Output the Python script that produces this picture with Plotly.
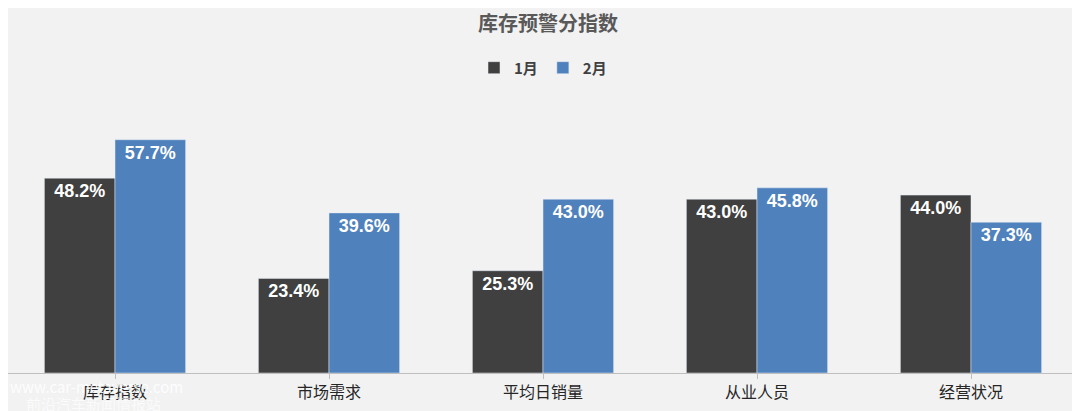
import plotly.graph_objects as go

categories = ["库存指数", "市场需求", "平均日销量", "从业人员", "经营状况"]
jan = [48.2, 23.4, 25.3, 43.0, 44.0]
feb = [57.7, 39.6, 43.0, 45.8, 37.3]

fig = go.Figure()
for name, vals, color in [("<b>1月</b>", jan, "#404040"), ("<b>2月</b>", feb, "#4f81bd")]:
    fig.add_trace(go.Bar(
        x=categories, y=vals, name=name, marker_color=color,
        text=[f"<b>{v:.1f}%</b>" for v in vals], textposition="inside",
        insidetextanchor="end", textangle=0,
        textfont=dict(color="white", size=18, family="Liberation Sans"),
    ))

fig.update_layout(
    width=1080, height=411,
    margin=dict(l=0, r=10, t=82, b=46),
    paper_bgcolor="#f2f2f2", plot_bgcolor="#f2f2f2",
    barmode="group", bargap=0.34, bargroupgap=0,
    title=dict(text="<b>库存预警分指数</b>", x=0.5, y=0.96, xanchor="center", yanchor="middle",
               font=dict(size=20, color="#595959", family="Noto Sans CJK SC")),
    legend=dict(orientation="h", x=0.5, xanchor="center", y=1.078, yanchor="middle",
                font=dict(size=15, color="#404040", family="Noto Sans CJK SC"),
                itemwidth=30, traceorder="normal"),
    font=dict(family="Noto Sans CJK SC"),
    uniformtext=dict(mode="show", minsize=10),
)
fig.update_yaxes(range=[0, 70], visible=False)
fig.update_xaxes(showline=True, linecolor="#bfbfbf", ticks="outside", tickcolor="#bfbfbf",
                 tickfont=dict(size=16, color="#262626", family="Noto Sans CJK SC"))
fig.add_annotation(text="www.car-metaverse.com", x=0.0, y=0.0, xref="paper", yref="paper",
                   xanchor="left", yanchor="top", yshift=-1, showarrow=False,
                   font=dict(size=15, color="white"), opacity=0.9)
fig.add_annotation(text="前沿汽车新闻情报站", x=0.015, y=0.0, xref="paper", yref="paper",
                   xanchor="left", yanchor="top", yshift=-18, showarrow=False,
                   font=dict(size=15, color="white"), opacity=0.7)
fig.write_html("out.html")
